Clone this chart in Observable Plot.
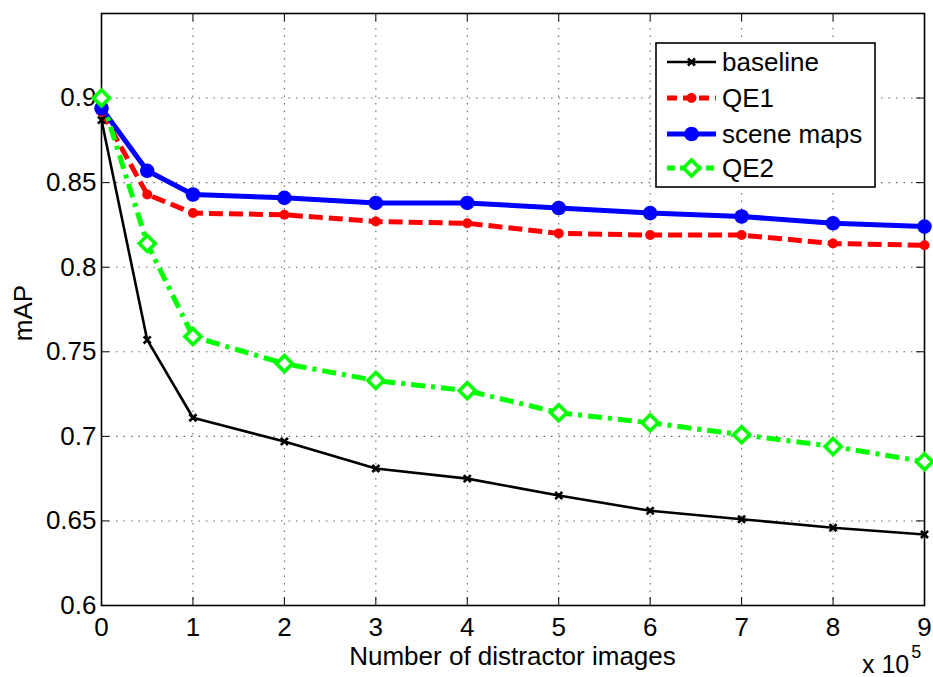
<!DOCTYPE html>
<html><head><meta charset="utf-8">
<script src="https://cdn.jsdelivr.net/npm/d3@7"></script>
<script src="https://cdn.jsdelivr.net/npm/@observablehq/plot@0.6"></script>
<style>
html,body{margin:0;padding:0;background:#fff;}
#wrap{position:relative;width:933px;height:677px;font-family:"Liberation Sans",Arial,Helvetica,sans-serif;color:#000;}
.lbl{position:absolute;color:#000;white-space:nowrap;line-height:1;}
</style></head><body><div id="wrap"></div>
<script>
// ---- data (x in units of 10^5 distractor images) ----
const xValues   = [0, 0.5, 1, 2, 3, 4, 5, 6, 7, 8, 9];
const baseline  = [0.887, 0.757, 0.711, 0.697, 0.681, 0.675, 0.665, 0.656, 0.651, 0.646, 0.642];
const qe1       = [0.892, 0.843, 0.832, 0.831, 0.827, 0.826, 0.820, 0.819, 0.819, 0.814, 0.813];
const sceneMaps = [0.894, 0.857, 0.843, 0.841, 0.838, 0.838, 0.835, 0.832, 0.830, 0.826, 0.824];
const qe2       = [0.900, 0.814, 0.759, 0.743, 0.733, 0.727, 0.714, 0.708, 0.701, 0.694, 0.685];
const seriesNames = ["baseline", "QE1", "scene maps", "QE2"];
const xTicks = [0, 1, 2, 3, 4, 5, 6, 7, 8, 9];
const yTicks = [0.6, 0.65, 0.7, 0.75, 0.8, 0.85, 0.9];
const xLabel = "Number of distractor images";
const yLabel = "mAP";

// ---- styles ----
const styles = {
  "baseline":   {color: "#000000", width: 2.6, dash: null,        symbol: "times",    r: 3.3, fill: "none",    mstroke: 2.6},
  "QE1":        {color: "#ff0000", width: 5,   dash: "14,6",      symbol: "circle",   r: 5.0, fill: "#ff0000", mstroke: 0},
  "scene maps": {color: "#0000ff", width: 5,   dash: null,        symbol: "circle",   r: 7.3, fill: "#0000ff", mstroke: 0},
  "QE2":        {color: "#00ff00", width: 5,   dash: "14,6,4,6",  symbol: "diamond2", r: 7.2, fill: "#ffffff", mstroke: 3.6}
};
const valuesByName = {"baseline": baseline, "QE1": qe1, "scene maps": sceneMaps, "QE2": qe2};
const rows = seriesNames.map(name => xValues.map((x, i) => ({name, x, y: valuesByName[name][i]})));

const W = 933, H = 677, mL = 101, mR = 9, mT = 13, mB = 72;
const frameW = W - mL - mR, frameH = H - mT - mB;
const tickLen = 8;
const font = '"Liberation Sans", Arial, Helvetica, sans-serif';
const gridStyle = {stroke: "#000", strokeOpacity: 0.6, strokeWidth: 1.1, strokeDasharray: "1.5,6"};

const marks = [
  Plot.gridX(xTicks, gridStyle),
  Plot.gridY(yTicks, gridStyle),
  // inward ticks on all four sides
  Plot.tickX(xTicks, {x: d => d, insetTop: frameH - tickLen, stroke: "#000", strokeWidth: 1}),
  Plot.tickX(xTicks, {x: d => d, insetBottom: frameH - tickLen, stroke: "#000", strokeWidth: 1}),
  Plot.tickY(yTicks, {y: d => d, insetRight: frameW - tickLen, stroke: "#000", strokeWidth: 1}),
  Plot.tickY(yTicks, {y: d => d, insetLeft: frameW - tickLen, stroke: "#000", strokeWidth: 1}),
  Plot.axisX(xTicks, {anchor: "bottom", tickSize: 0, tickPadding: 12, label: null, tickFormat: d => String(d), fontSize: 26}),
  Plot.axisY(yTicks, {anchor: "left", tickSize: 0, tickPadding: 5, label: null, tickFormat: d => String(d), fontSize: 26}),
  Plot.frame({stroke: "#000", strokeWidth: 1.6})
];
for (const series of rows) {
  const s = styles[series[0].name];
  marks.push(Plot.line(series, {x: "x", y: "y", stroke: s.color, strokeWidth: s.width,
    strokeDasharray: s.dash, strokeLinecap: "butt", strokeLinejoin: "round", clip: false}));
}
for (const series of rows) {
  const s = styles[series[0].name];
  marks.push(Plot.dot(series, {x: "x", y: "y", symbol: s.symbol, r: s.r, fill: s.fill,
    stroke: s.mstroke ? s.color : "none", strokeWidth: s.mstroke}));
}

const chart = Plot.plot({
  width: W, height: H,
  marginLeft: mL, marginRight: mR, marginTop: mT, marginBottom: mB,
  x: {domain: [0, 9]},
  y: {domain: [0.6, 0.95]},
  style: {fontFamily: font, fontSize: "26px", color: "#000", background: "#fff", overflow: "visible"},
  marks
});
const wrap = document.getElementById("wrap");
wrap.appendChild(chart);

// ---- axis titles & exponent ----
function addLabel(html, css) {
  const d = document.createElement("div");
  d.className = "lbl";
  d.innerHTML = html;
  Object.assign(d.style, css);
  wrap.appendChild(d);
  return d;
}
addLabel(xLabel, {left: (mL + frameW / 2) + "px", top: "643px", fontSize: "26px", transform: "translateX(-50%)"});
addLabel(yLabel, {left: "23px", top: "313px", fontSize: "26px", transform: "translate(-50%,-50%) rotate(-90deg)"});
addLabel('x 10<span style="font-size:18px;position:relative;top:-15px;margin-left:2px">5</span>',
  {left: "862px", top: "652px", fontSize: "25px"});

// ---- legend ----
const legend = d3.select(wrap).append("svg")
  .attr("width", 222).attr("height", 147)
  .style("position", "absolute").style("left", "655px").style("top", "42px")
  .style("font-family", font);
legend.append("rect").attr("x", 1).attr("y", 1).attr("width", 219).attr("height", 144)
  .attr("fill", "#fff").attr("stroke", "#000").attr("stroke-width", 1.6);
const rowY = [20, 56, 92, 126];
seriesNames.forEach((name, i) => {
  const s = styles[name];
  const g = legend.append("g").attr("transform", `translate(0,${rowY[i]})`);
  g.append("line").attr("x1", 12).attr("x2", 61).attr("y1", 0).attr("y2", 0)
    .attr("stroke", s.color).attr("stroke-width", s.width)
    .attr("stroke-dasharray", s.dash ? (name === "QE2" ? "8,5" : "10,6") : null).attr("stroke-linecap", "butt");
  const sym = {times: d3.symbolTimes, circle: d3.symbolCircle, diamond2: d3.symbolDiamond2}[s.symbol];
  g.append("path").attr("transform", "translate(36.5,0)")
    .attr("d", d3.symbol(sym, Math.PI * s.r * s.r)())
    .attr("fill", s.fill).attr("stroke", s.mstroke ? s.color : "none").attr("stroke-width", s.mstroke);
  g.append("text").attr("x", 67).attr("y", 0).attr("dy", "0.35em")
    .attr("font-size", 26).attr("fill", "#000").text(name);
});
</script></body></html>
